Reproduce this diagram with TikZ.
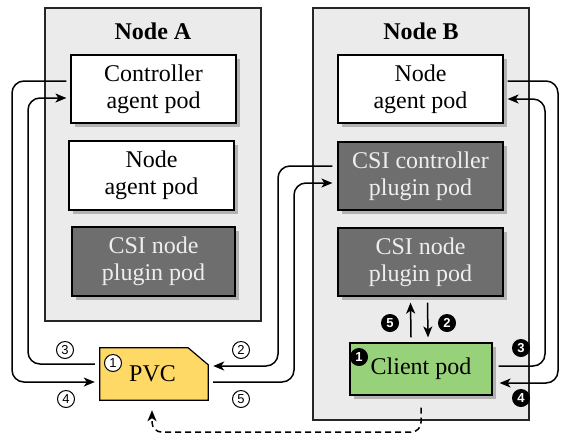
\documentclass[tikz,border=0pt]{standalone}
\usepackage{fontspec}
\setmainfont{Liberation Serif}
\newfontfamily\numfont{Liberation Sans}
\usetikzlibrary{arrows.meta,shadows,backgrounds}
\definecolor{groupbg}{HTML}{EBEBEB}
\definecolor{darkfill}{HTML}{6E6E6E}
\definecolor{darktext}{HTML}{EEEEEE}
\definecolor{clientgreen}{HTML}{97D27A}
\definecolor{pvcyellow}{HTML}{FFD966}
\begin{document}
\begin{tikzpicture}[x=1pt,y=-1pt,
  groupbox/.style={draw=black!85, line width=1.3pt, fill=groupbg, inner sep=0},
  title/.style={font=\bfseries\fontsize{24}{27}\selectfont, anchor=base},
  pod/.style={draw=black, line width=1.2pt, fill=white, align=center, inner sep=0,
    font=\fontsize{24}{27}\selectfont,
    drop shadow={shadow xshift=4pt, shadow yshift=-4pt, fill=gray!60, opacity=1}},
  darkpod/.style={pod, fill=darkfill, text=darktext},
  conn/.style={line width=1.5pt, rounded corners=12pt, -{Stealth[length=11pt,width=9pt,inset=3pt]}},
  dashconn/.style={conn, dash pattern=on 6pt off 4pt},
  numw/.style={circle, draw, line width=1pt, fill=white, minimum size=17pt, inner sep=0,
    font=\numfont\fontsize{13}{13}\selectfont},
  numb/.style={numw, fill=black, text=white, font=\numfont\bfseries\fontsize{13}{13}\selectfont}
]
\useasboundingbox (0,0) rectangle (561,440);

% group boxes
\node[groupbox, minimum width=216pt, minimum height=313pt] (nodeA) at (153,164.5) {};
\node[groupbox, minimum width=216pt, minimum height=412pt] (nodeB) at (421,214) {};
\node[title] (titleA) at (153,39) {Node A};
\node[title] (titleB) at (421,39) {Node B};

% pods in Node A
\node[pod, minimum width=165pt, minimum height=68pt] (ctrlagent) at (153.5,89) {Controller\\agent pod};
\node[pod, minimum width=165pt, minimum height=69pt] (nodeagentA) at (151.5,175.5) {Node\\agent pod};
\node[darkpod, minimum width=163pt, minimum height=69pt] (csinodeA) at (153.5,261.5) {CSI node\\plugin pod};

% pods in Node B
\node[pod, minimum width=165pt, minimum height=68pt] (nodeagentB) at (420.5,89) {Node\\agent pod};
\node[darkpod, minimum width=165pt, minimum height=68pt] (csictrlB) at (420.5,176) {CSI controller\\plugin pod};
\node[darkpod, minimum width=165pt, minimum height=68pt] (csinodeB) at (420.5,262) {CSI node\\plugin pod};
\node[pod, fill=clientgreen, minimum width=142pt, minimum height=52pt] (client) at (421,369) {Client pod};

% PVC
\node[inner sep=0, minimum width=108pt, minimum height=52pt, font=\fontsize{24}{27}\selectfont] (pvc) at (154,374) {\hspace*{-3pt}PVC};
\begin{pgfonlayer}{background}
\begin{scope}[shift={(4,4)}]
\fill[gray!60] (pvc.north west) -- ([xshift=-20pt]pvc.north east) -- ([yshift=-17pt]pvc.north east) -- (pvc.south east) -- (pvc.south west) -- cycle;
\end{scope}
\draw[line width=1.2pt, fill=pvcyellow] (pvc.north west) -- ([xshift=-20pt]pvc.north east) -- ([yshift=-17pt]pvc.north east) -- (pvc.south east) -- (pvc.south west) -- cycle;
\end{pgfonlayer}

% connectors, left side
\draw[conn] ([xshift=-4pt,yshift=8pt]ctrlagent.west) -| (12,382) -- ([xshift=-5pt,yshift=-8pt]pvc.west);
\draw[conn] ([xshift=-5pt,yshift=10pt]pvc.west) -| (28,98) -- ([xshift=-4pt,yshift=-9pt]ctrlagent.west);

% connectors, PVC to CSI controller
\draw[conn] ([xshift=-5pt,yshift=10pt]csictrlB.west) -| (278,366) -- ([xshift=5pt,yshift=8pt]pvc.east);
\draw[conn] ([xshift=5pt,yshift=-8pt]pvc.east) -| (294,183) -- ([xshift=-5pt,yshift=-7pt]csictrlB.west);

% connectors, right side
\draw[conn] ([xshift=4pt,yshift=8pt]nodeagentB.east) -| (558,383) -- ([xshift=7pt,yshift=-14pt]client.east);
\draw[conn] ([xshift=6pt,yshift=3pt]client.east) -| (545,99) -- ([xshift=4pt,yshift=-10pt]nodeagentB.east);

% client <-> CSI node plugin
\draw[conn] ([xshift=-10pt,yshift=5pt]client.north) -- ([xshift=-10pt,yshift=-6pt]csinodeB.south);
\draw[conn] ([xshift=7pt,yshift=-6pt]csinodeB.south) -- ([xshift=7pt,yshift=5pt]client.north);

% dashed client -> PVC
\draw[dashconn, rounded corners=10pt] ([yshift=-12pt]client.south) |- ([xshift=-2pt,yshift=-32pt]pvc.south) -- ([xshift=-2pt,yshift=-10pt]pvc.south);

% step numbers
\node[numw] (n1) at (113,363) {1};
\node[numw] (n3l) at (65,350) {3};
\node[numw] (n4l) at (66,399) {4};
\node[numw] (n2l) at (241,350) {2};
\node[numw] (n5l) at (241,399) {5};
\node[numb] (b1) at (359,357) {1};
\node[numb] (b5) at (390,323) {5};
\node[numb] (b2) at (447,323) {2};
\node[numb] (b3) at (521,348) {3};
\node[numb] (b4) at (521,398) {4};
\end{tikzpicture}
\end{document}
